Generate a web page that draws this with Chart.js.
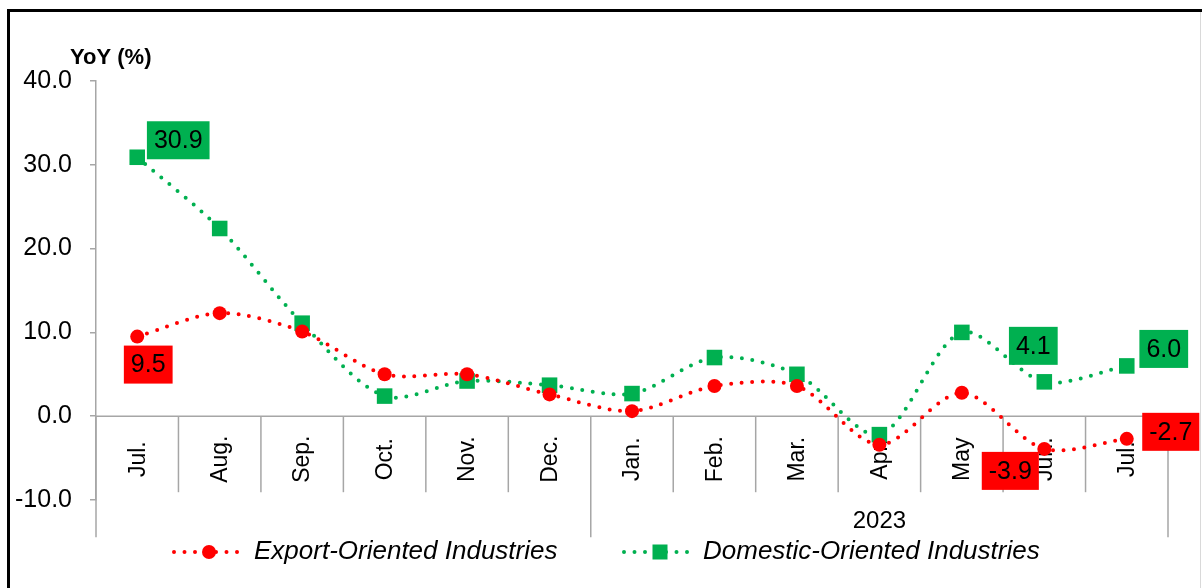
<!DOCTYPE html>
<html>
<head>
<meta charset="utf-8">
<script src="https://cdn.jsdelivr.net/npm/chart.js@4.4.0/dist/chart.umd.min.js"></script>
<style>
  html, body { margin: 0; padding: 0; background: #ffffff; }
  #wrap { position: relative; width: 1202px; height: 588px; }
</style>
</head>
<body>
<div id="wrap"><canvas id="chart" width="1202" height="588"></canvas></div>
<script>
  // 数据
  var categories = ["Jul.", "Aug.", "Sep.", "Oct.", "Nov.", "Dec.", "Jan.", "Feb.", "Mar.", "Apr.", "May", "Jun.", "Jul."];
  var groupLabels = ["", "2023"];
  var groupStarts = [0, 6];
  var exportValues = [9.5, 12.3, 10.1, 5.0, 5.0, 2.6, 0.6, 3.6, 3.6, -3.4, 2.8, -3.9, -2.7];
  var domesticValues = [30.9, 22.4, 11.1, 2.4, 4.2, 3.7, 2.7, 7.0, 5.0, -2.2, 10.0, 4.1, 6.0];
  var yTicks = [-10, 0, 10, 20, 30, 40];

  var RED = "#ff0000";
  var GREEN = "#00b050";
  var AXIS = "#a6a6a6";
  var FONT = "'Liberation Sans', Arial, sans-serif";

  // 带底色的数据标签：[数据集, 点序号, dx, dy]
  var boxLabels = [
    [1, 0, 41, -17],
    [1, 11, -11, -36],
    [1, 12, 37, -17],
    [0, 0, 11, 28],
    [0, 11, -34, 22],
    [0, 12, 44, -7]
  ];

  var excelPlugin = {
    id: "excelLook",
    beforeDatasetsDraw: function (chart) {
      var ctx = chart.ctx;
      var x = chart.scales.x;
      var y = chart.scales.y;
      var y0 = y.getPixelForValue(0);
      var left = chart.chartArea.left;
      var right = chart.chartArea.right;
      var step = (right - left) / categories.length;

      ctx.save();
      // 横轴
      ctx.strokeStyle = AXIS;
      ctx.lineWidth = 1.5;
      ctx.beginPath();
      ctx.moveTo(left, y0);
      ctx.lineTo(right, y0);
      ctx.stroke();

      // 纵轴延长 + 分隔线
      var lowEnd = y0 + 121;
      for (var i = 0; i <= categories.length; i++) {
        var px = left + step * i;
        var isGroup = i === 0 || i === categories.length || groupStarts.indexOf(i) !== -1;
        ctx.beginPath();
        ctx.moveTo(px, y0);
        ctx.lineTo(px, isGroup ? lowEnd : y0 + 76);
        ctx.stroke();
      }

      // 类别标签（竖排）
      ctx.fillStyle = "#000";
      ctx.font = "23px " + FONT;
      ctx.textAlign = "center";
      ctx.textBaseline = "middle";
      categories.forEach(function (c, i) {
        var cx = x.getPixelForValue(i);
        ctx.save();
        ctx.translate(cx + 1, y0 + 43);
        ctx.rotate(-Math.PI / 2);
        ctx.fillText(c, 0, 0);
        ctx.restore();
      });

      // 年份
      ctx.font = "24px " + FONT;
      groupLabels.forEach(function (g, k) {
        if (!g) return;
        var from = groupStarts[k];
        var to = k + 1 < groupStarts.length ? groupStarts[k + 1] : categories.length;
        ctx.fillText(g, left + step * (from + to) / 2, y0 + 105);
      });

      // 纵轴标题
      ctx.font = "bold 22px " + FONT;
      ctx.textAlign = "left";
      ctx.fillText("YoY (%)", 70, 58);

      // 外框
      ctx.fillStyle = "#000";
      ctx.fillRect(7, 9, 1195, 3);
      ctx.fillRect(7, 9, 3, 579);
      ctx.fillStyle = "#d9d9d9";
      ctx.fillRect(1200, 12, 1, 576);
      ctx.restore();
    },
    afterDatasetsDraw: function (chart) {
      var ctx = chart.ctx;
      ctx.save();
      ctx.font = "25px " + FONT;
      ctx.textAlign = "center";
      ctx.textBaseline = "middle";
      boxLabels.forEach(function (b) {
        var ds = chart.data.datasets[b[0]];
        var pt = chart.getDatasetMeta(b[0]).data[b[1]];
        var txt = ds.data[b[1]].toFixed(1);
        var w = ctx.measureText(txt).width + 14;
        var cx = pt.x + b[2];
        var cy = pt.y + b[3];
        ctx.fillStyle = ds.borderColor;
        ctx.fillRect(cx - w / 2, cy - 19, w, 38);
        ctx.fillStyle = "#000";
        ctx.fillText(txt, cx, cy + 1);
      });

      // 图例
      var items = [
        { ds: chart.data.datasets[0], x1: 174, x2: 243, mx: 209, tx: 254 },
        { ds: chart.data.datasets[1], x1: 624, x2: 694, mx: 660, tx: 703 }
      ];
      var ly = 552;
      items.forEach(function (it) {
        ctx.strokeStyle = it.ds.borderColor;
        ctx.lineWidth = 4;
        ctx.lineCap = "round";
        ctx.setLineDash([0, 10.5]);
        ctx.beginPath();
        ctx.moveTo(it.x1, ly);
        ctx.lineTo(it.x2, ly);
        ctx.stroke();
        ctx.setLineDash([]);
        ctx.fillStyle = it.ds.borderColor;
        if (it.ds.pointStyle === "rect") {
          ctx.fillRect(it.mx - 7.5, ly - 7.5, 15, 15);
        } else {
          ctx.beginPath();
          ctx.arc(it.mx, ly, 7, 0, Math.PI * 2);
          ctx.fill();
        }
        ctx.fillStyle = "#000";
        ctx.font = "italic 26px " + FONT;
        ctx.textAlign = "left";
        ctx.fillText(it.ds.label, it.tx, ly);
      });
      ctx.restore();
    }
  };

  new Chart(document.getElementById("chart"), {
    type: "line",
    data: {
      labels: categories,
      datasets: [
        {
          label: "Export-Oriented Industries",
          data: exportValues,
          borderColor: RED,
          backgroundColor: RED,
          borderWidth: 4,
          borderDash: [0, 10.5],
          borderCapStyle: "round",
          tension: 0.3,
          pointStyle: "circle",
          pointRadius: 7,
          pointBorderWidth: 0
        },
        {
          label: "Domestic-Oriented Industries",
          data: domesticValues,
          borderColor: GREEN,
          backgroundColor: GREEN,
          borderWidth: 4,
          borderDash: [0, 10.5],
          borderCapStyle: "round",
          tension: 0.3,
          pointStyle: "rect",
          pointRadius: 11,
          pointBorderWidth: 0
        }
      ]
    },
    options: {
      responsive: false,
      animation: false,
      layout: { padding: { left: 10, right: 34, top: 81, bottom: 88 } },
      plugins: {
        legend: { display: false },
        tooltip: { enabled: false }
      },
      scales: {
        x: {
          type: "category",
          offset: true,
          display: false
        },
        y: {
          min: -10,
          max: 40,
          afterBuildTicks: function (s) {
            s.ticks = yTicks.map(function (v) { return { value: v }; });
          },
          afterFit: function (s) { s.width = 86; },
          grid: { drawOnChartArea: false, tickLength: 6, color: AXIS, lineWidth: 1.5 },
          border: { color: AXIS, width: 1.5 },
          ticks: {
            color: "#000",
            padding: 18,
            font: { family: FONT, size: 25 },
            callback: function (v) { return Number(v).toFixed(1); }
          }
        }
      }
    },
    plugins: [excelPlugin]
  });
</script>
</body>
</html>
